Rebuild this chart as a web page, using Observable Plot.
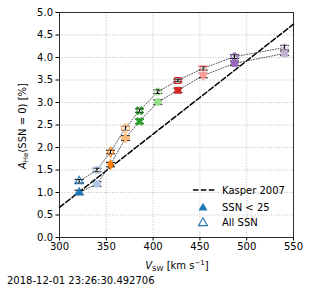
<!DOCTYPE html>
<html>
<head>
<meta charset="utf-8">
<script src="https://cdn.jsdelivr.net/npm/d3@7"></script>
<script src="https://cdn.jsdelivr.net/npm/@observablehq/plot@0.6"></script>
<style>
  body { margin: 0; background: white; font-family: "DejaVu Sans", sans-serif; }
  #caption { font-size: 10px; margin-left: 7px; line-height: 14px; padding-top: 2px; color: black; }
</style>
</head>
<body>
<div id="chart"></div>
<div id="caption">2018-12-01 23:26:30.492706</div>
<script>
// ---- data ----
const vsw     = [321, 340, 354.5, 370.5, 385.5, 405, 426.5, 453.5, 487, 540.5];
const aheLow  = [1.00, 1.19, 1.62, 2.21, 2.58, 3.01, 3.27, 3.60, 3.87, 4.09];
const aheAll  = [1.25, 1.50, 1.90, 2.43, 2.82, 3.24, 3.49, 3.76, 4.02, 4.22];
const errLow  = [0.05, 0.05, 0.05, 0.05, 0.05, 0.05, 0.05, 0.05, 0.05, 0.05];
const errAll  = [0.04, 0.04, 0.04, 0.04, 0.04, 0.04, 0.03, 0.04, 0.04, 0.05];
const binColors = ["#1f77b4", "#aec7e8", "#ff7f0e", "#ffbb78", "#2ca02c",
                   "#98df8a", "#d62728", "#ff9896", "#9467bd", "#c5b0d5"];
const binMarkers = ["triangleUp", "circle", "thinDiamond", "plusFilled", "xFilled",
                    "octagon", "square", "triangleDown", "pentagon", "hexagon"];
const kasperV = [300, 550];
const kasperA = [0.67, 4.74];
const xTicks = [300, 350, 400, 450, 500, 550];
const yTicks = [0, 0.5, 1, 1.5, 2, 2.5, 3, 3.5, 4, 4.5, 5];

// ---- symbols ----
function polygon(n, start, k = 1) {
  return { draw(ctx, size) {
    const r = Math.sqrt(size / Math.PI) * k;
    for (let i = 0; i < n; i++) {
      const a = start + 2 * Math.PI * i / n;
      const px = r * Math.cos(a), py = r * Math.sin(a);
      if (i === 0) ctx.moveTo(px, py); else ctx.lineTo(px, py);
    }
    ctx.closePath();
  }};
}
function cross(rot) {
  return { draw(ctx, size) {
    const r = Math.sqrt(size / 5) / 2;
    const pts = [[-3,-1],[-1,-1],[-1,-3],[1,-3],[1,-1],[3,-1],[3,1],[1,1],[1,3],[-1,3],[-1,1],[-3,1]];
    const c = Math.cos(rot), s = Math.sin(rot);
    pts.forEach(([px, py], i) => {
      const X = r * (px * c - py * s), Y = r * (px * s + py * c);
      if (i === 0) ctx.moveTo(X, Y); else ctx.lineTo(X, Y);
    });
    ctx.closePath();
  }};
}
const thinDiamond = { draw(ctx, size) {
  const r = Math.sqrt(size / Math.PI);
  const h = r * 1.45, w = r * 0.85;
  ctx.moveTo(0, -h); ctx.lineTo(w, 0); ctx.lineTo(0, h); ctx.lineTo(-w, 0); ctx.closePath();
}};
const capSymbol = { draw(ctx) { ctx.moveTo(-4.5, 0); ctx.lineTo(4.5, 0); } };
const symbolMap = {
  triangleUp: polygon(3, -Math.PI / 2, 1.45),
  triangleDown: polygon(3, Math.PI / 2, 1.45),
  circle: "circle",
  thinDiamond: thinDiamond,
  plusFilled: cross(0),
  xFilled: cross(Math.PI / 4),
  octagon: polygon(8, Math.PI / 8, 1.05),
  square: "square",
  pentagon: polygon(5, -Math.PI / 2, 1.15),
  hexagon: polygon(6, -Math.PI / 2, 1.1)
};

const low = vsw.map((v, i) => ({v, a: aheLow[i], e: errLow[i], c: binColors[i], m: binMarkers[i]}));
const all = vsw.map((v, i) => ({v, a: aheAll[i], e: errAll[i], c: binColors[i], m: binMarkers[i]}));
const kasper = kasperV.map((v, i) => ({v, a: kasperA[i]}));

const marks = [
  Plot.gridX(xTicks, {stroke: "#b0b0b0", strokeOpacity: 1, strokeWidth: 0.8, strokeDasharray: "1,1.65"}),
  Plot.gridY(yTicks, {stroke: "#b0b0b0", strokeOpacity: 1, strokeWidth: 0.8, strokeDasharray: "1,1.65"}),
  Plot.line(kasper, {x: "v", y: "a", stroke: "black", strokeWidth: 1.5, strokeDasharray: "5.5,2.4"}),
  Plot.line(all, {x: "v", y: "a", stroke: "#555", strokeWidth: 1, strokeDasharray: "1,1.65"}),
  Plot.line(low, {x: "v", y: "a", stroke: "#555", strokeWidth: 1, strokeDasharray: "1,1.65"}),
];
for (const set of [low, all]) {
  marks.push(Plot.ruleX(set, {x: "v", y1: d => d.a - d.e, y2: d => d.a + d.e, stroke: "black", strokeWidth: 1}));
  marks.push(Plot.dot(set, {x: "v", y: d => d.a - d.e, symbol: capSymbol, r: 3, stroke: "black", strokeWidth: 1, fill: "none"}));
  marks.push(Plot.dot(set, {x: "v", y: d => d.a + d.e, symbol: capSymbol, r: 3, stroke: "black", strokeWidth: 1, fill: "none"}));
}
low.forEach(d => {
  marks.push(Plot.dot([d], {x: "v", y: "a", symbol: symbolMap[d.m], r: 3.6, fill: d.c, stroke: d.c, strokeWidth: 0.5}));
});
all.forEach(d => {
  marks.push(Plot.dot([d], {x: "v", y: "a", symbol: symbolMap[d.m], r: 3.4, fill: "none", stroke: d.c, strokeWidth: 1.1}));
});
marks.push(
  Plot.axisX(xTicks, {tickSize: 3.5, tickPadding: 2, fontSize: 10, label: null, stroke: "black"}),
  Plot.axisY(yTicks, {tickSize: 3.5, tickPadding: 3, fontSize: 10, label: null, tickFormat: d3.format(".1f"), stroke: "black"}),
  Plot.frame({stroke: "black", strokeWidth: 0.8})
);

const chart = Plot.plot({
  width: 309,
  height: 272,
  marginLeft: 59,
  marginRight: 16,
  marginTop: 12,
  marginBottom: 35,
  style: {fontFamily: "DejaVu Sans, sans-serif", fontSize: "10px", color: "black", background: "white"},
  x: {domain: [300, 550]},
  y: {domain: [0, 5]},
  marks
});
document.getElementById("chart").appendChild(chart);

// ---- axis labels and legend ----
const svg = d3.select(chart);
const ns = "DejaVu Sans, sans-serif";
const yl = svg.append("text")
  .attr("transform", "translate(26,126) rotate(-90)")
  .attr("text-anchor", "middle").attr("font-family", ns).attr("font-size", 10).attr("fill", "black");
yl.append("tspan").attr("font-style", "italic").text("A");
yl.append("tspan").attr("font-size", 7).attr("dy", 2).text("He");
yl.append("tspan").attr("dy", -2).text("(SSN = 0) [%]");

const xl = svg.append("text")
  .attr("x", 177).attr("y", 269)
  .attr("text-anchor", "middle").attr("font-family", ns).attr("font-size", 10).attr("fill", "black");
xl.append("tspan").attr("font-style", "italic").text("V");
xl.append("tspan").attr("font-size", 7).attr("dy", 2).text("SW");
xl.append("tspan").attr("dy", -2).text(" [km s");
xl.append("tspan").attr("font-size", 7).attr("dy", -4).text("−1");
xl.append("tspan").attr("dy", 4).text("]");

const lg = svg.append("g").attr("font-family", ns).attr("font-size", 10).attr("fill", "black")
  .attr("text-anchor", "start");
lg.append("line").attr("x1", 193).attr("x2", 216).attr("y1", 190).attr("y2", 190)
  .attr("stroke", "black").attr("stroke-width", 1.5).attr("stroke-dasharray", "5.5,2.4");
lg.append("text").attr("x", 222).attr("y", 190).attr("dy", "0.35em").attr("text-anchor", "start").text("Kasper 2007");
const tri = d3.symbol().type({draw: symbolMap.triangleUp.draw}).size(3.6 * 3.6 * Math.PI);
lg.append("path").attr("d", tri()).attr("transform", "translate(203,208)").attr("fill", "#1f77b4");
lg.append("text").attr("x", 222).attr("y", 207).attr("dy", "0.35em").attr("text-anchor", "start").text("SSN < 25");
lg.append("path").attr("d", tri()).attr("transform", "translate(203,223)").attr("fill", "none")
  .attr("stroke", "#1f77b4").attr("stroke-width", 1.1);
lg.append("text").attr("x", 222).attr("y", 222).attr("dy", "0.35em").attr("text-anchor", "start").text("All SSN");
</script>
</body>
</html>
